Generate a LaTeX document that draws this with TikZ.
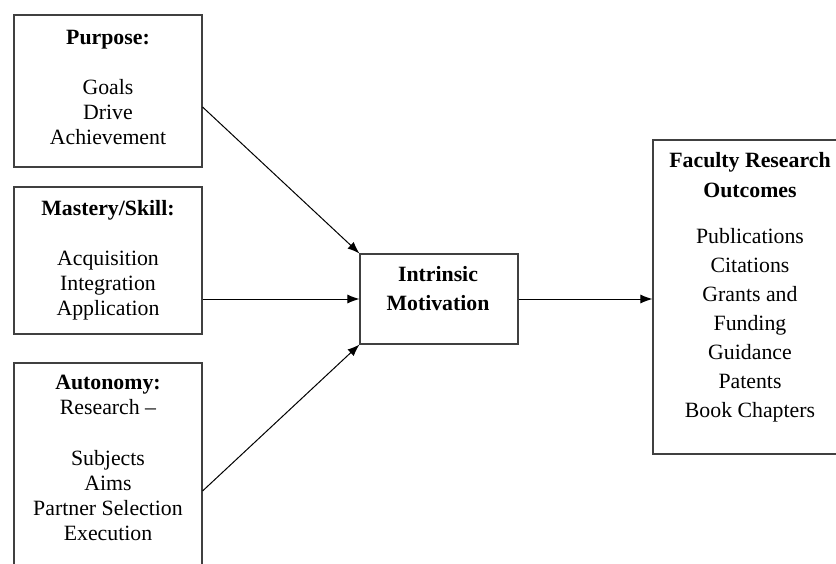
\documentclass[tikz,border=0pt]{standalone}
\usepackage{fontspec}
\setmainfont{Liberation Serif}
\usetikzlibrary{arrows.meta}
\begin{document}
\begin{tikzpicture}[x=1pt,y=-1pt,
  box/.style={draw=black!75,line width=1.1pt,rectangle,inner sep=0pt},
  txt/.style={align=center,inner sep=0pt,anchor=base,font=\fontsize{21.8}{25}\selectfont},
  arr/.style={line width=1pt,-{Latex[length=12pt,width=9pt]}}]
\useasboundingbox (0,0) rectangle (836,563);
\clip (0,0) rectangle (836,563);
% boxes
\node[box,minimum width=188pt,minimum height=152pt] (purpose) at (108,91) {};
\node[box,minimum width=188pt,minimum height=147pt] (mastery) at (108,260.5) {};
\node[box,minimum width=188pt,minimum height=237pt] (autonomy) at (108,481.5) {};
\node[box,minimum width=158pt,minimum height=90pt] (intr) at (439,299) {};
\node[box,minimum width=194pt,minimum height=314pt] (fac) at (750,297) {};
% texts (anchor base = last line's baseline)
\node[txt] (tpurpose) at (108,144) {\textbf{Purpose:}\\[25pt]Goals\\Drive\\Achievement};
\node[txt] (tmastery) at (108,315) {\textbf{Mastery/Skill:}\\[25pt]Acquisition\\Integration\\Application};
\node[txt] (tautonomy) at (108,540) {\textbf{Autonomy:}\\Research --\\[26pt]Subjects\\Aims\\Partner Selection\\Execution};
\node[txt,font=\fontsize{21.8}{29}\selectfont] (tintr) at (438,310.7) {\textbf{Intrinsic}\\\textbf{Motivation}};
\node[txt,font=\fontsize{21.8}{30}\selectfont] (tfac) at (750,197) {\textbf{Faculty Research}\\\textbf{Outcomes}};
\node[txt,font=\fontsize{21.8}{29}\selectfont] (tfaclist) at (750,417) {Publications\\Citations\\Grants and\\Funding\\Guidance\\Patents\\Book Chapters};
% arrows
\draw[arr] ([yshift=-16pt]purpose.east) -- (intr.north west);
\draw[arr] (mastery.east |- intr.west) -- (intr.west);
\draw[arr] ([yshift=-9.5pt]autonomy.east) -- (intr.south west);
\draw[arr] (intr.east) -- (fac.west |- intr.east);
\end{tikzpicture}
\end{document}
